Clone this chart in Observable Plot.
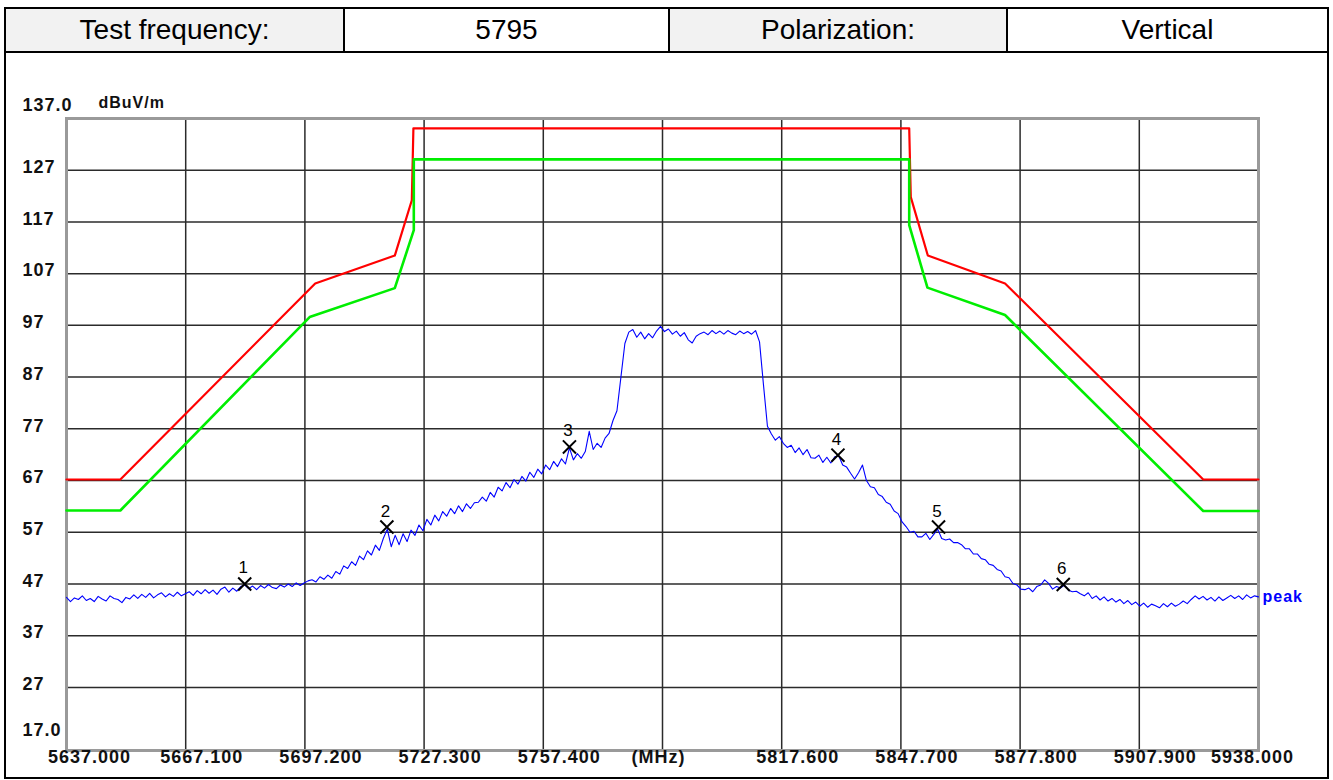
<!DOCTYPE html>
<html><head><meta charset="utf-8">
<script src="https://cdn.jsdelivr.net/npm/d3@7"></script>
<script src="https://cdn.jsdelivr.net/npm/@observablehq/plot@0.6"></script>
<style>
body{margin:0;background:#fff;font-family:"Liberation Sans",Arial,sans-serif;}
#wrap{position:relative;width:1333px;height:780px;overflow:hidden;background:#fff}
#hdr{position:absolute;left:4px;top:7px;width:1325px;height:46px;display:flex;box-sizing:border-box;border:2px solid #000;}
.c{display:flex;align-items:center;justify-content:center;font-size:28px;box-sizing:border-box;border-right:2px solid #000;height:100%;color:#000}
.c:last-child{border-right:none}
.g{background:#f2f2f2}
#box{position:absolute;left:4px;top:51px;width:1325px;height:728px;border:2px solid #000;border-top:none;box-sizing:border-box;pointer-events:none}
#chart{position:absolute;left:0;top:52px}
#chart text{letter-spacing:1px}
</style>
</head><body>
<div id="wrap">
  <div id="hdr"></div>
  <div id="chart"></div>
  <div id="box"></div>
</div>
<script>
// Header table
const headerCells = ["Test frequency:", "5795", "Polarization:", "Vertical"];

// Axis ticks
const xTickValues = [5637.0, 5667.1, 5697.2, 5727.3, 5757.4, 5787.5, 5817.6, 5847.7, 5877.8, 5907.9, 5938.0];
const xTickLabels = ["5637.000", "5667.100", "5697.200", "5727.300", "5757.400", "(MHz)", "5817.600", "5847.700", "5877.800", "5907.900", "5938.000"];
const yTickValues = [127, 117, 107, 97, 87, 77, 67, 57, 47, 37, 27];
const yTopLabel = "137.0";
const yBottomLabel = "17.0";
const yUnit = "dBuV/m";
const yMin = 14.8, yMax = 137;

// Limit lines (frequency MHz, level dBuV/m)
const redFreqs   = [5637, 5650.6, 5699.8, 5719.9, 5724.2, 5724.6, 5849.8, 5850.2, 5854.5, 5874.0, 5924.05, 5938];
const redLevels  = [67.2, 67.2, 105.1, 110.5, 121.2, 135.1, 135.1, 121.8, 110.5, 105.1, 67.2, 67.2];
const greenFreqs = [5637, 5650.6, 5698.4, 5719.9, 5724.7, 5724.7, 5849.8, 5849.8, 5854.4, 5874.0, 5924.05, 5938];
const greenLevels= [61.2, 61.2, 98.6, 104.2, 115.4, 129.1, 129.1, 116.4, 104.3, 99.0, 61.1, 61.1];

// Peak trace: one reading per MHz from 5637 MHz
const traceStart = 5637, traceStep = 1;
const traceLevels = [
  44.4, 43.6, 44.3, 44.0, 44.7, 43.8, 44.2, 43.6, 44.6, 44.1, 43.7, 44.7, 44.2, 44.0, 43.4, 44.4,
  44.1, 44.9, 44.2, 45.0, 44.4, 45.2, 44.3, 44.9, 45.3, 44.5, 45.1, 44.6, 45.4, 44.7, 45.1,
  45.5, 44.8, 45.7, 45.1, 45.9, 45.2, 45.8, 45.0, 46.0, 46.4, 45.4, 46.2, 45.6, 46.5, 46.8,
  46.1, 46.6, 45.9, 46.7, 46.2, 46.9, 46.3, 46.1, 46.8, 46.4, 47.0, 46.5, 47.2, 46.7, 47.2,
  47.6, 47.8, 47.4, 48.4, 47.9, 48.7, 48.1, 49.4, 48.9, 50.5, 50.0, 51.3, 50.6, 52.4, 51.7, 53.4, 52.6, 54.5, 53.5, 55.8, 57.6,
  54.2, 56.4, 54.6, 56.7, 55.2, 57.4, 56.4, 58.4, 57.3, 59.5, 58.4, 60.3, 59.2, 61.0, 60.1, 61.6, 60.6, 62.1, 61.0, 62.5, 61.6, 62.7,
  62.8, 63.8, 63.0, 64.7, 63.8, 65.7, 65.0, 66.6, 65.6, 67.2, 66.3, 67.8, 66.9, 68.6, 67.6, 69.2, 68.3, 70.0, 69.1, 70.7, 69.7, 71.2, 70.2, 73.3,
  71.0, 72.2, 71.3, 72.6, 76.5, 73.0, 74.2, 73.4, 75.2, 76.1, 78.6, 80.5, 87.0, 93.5, 95.7,
  96.2, 94.7, 95.7, 94.4, 95.4, 94.6, 95.9, 96.8, 95.8, 96.3, 95.3, 95.9, 94.9, 95.6, 94.2, 93.6, 94.9, 95.4,
  95.7, 95.2, 96.0, 95.4, 95.9, 95.3, 96.0, 95.5, 95.2, 95.9, 95.4, 95.8, 95.3, 96.0, 93.8, 85.5, 77.5, 76.0, 74.8, 75.5, 74.2,
  73.4, 73.8, 72.4, 73.3, 72.0, 73.0, 71.4, 71.3, 71.9, 70.5, 71.5, 70.4, 71.6, 71.8, 70.0, 69.6, 68.4, 67.3, 68.5, 70.0,
  67.0, 65.8, 65.6, 64.3, 63.9, 62.8, 62.4, 61.1, 60.6, 59.0, 58.1, 57.0, 57.2, 56.1, 56.1, 56.8, 55.6, 56.6, 57.6, 55.8, 55.5, 55.7, 55.0, 55.0, 54.6,
  53.8, 53.8, 52.8, 52.8, 51.9, 51.7, 50.8, 50.6, 49.8, 49.5, 48.4, 48.2, 47.1, 46.8, 46.0, 45.9, 46.2, 45.5, 46.5, 46.8, 47.8, 47.1, 46.0, 46.5,
  46.2, 46.8, 45.8, 45.5, 45.6, 45.1, 44.7, 45.3, 44.2, 44.7, 43.9, 44.5, 43.7, 44.2, 43.5, 44.0,
  43.2, 43.8, 43.0, 43.5, 42.7, 43.3, 42.5, 43.1, 42.8, 42.4, 43.2, 42.6, 43.3, 42.7, 43.1, 43.7, 43.2, 44.0, 44.7, 44.1,
  44.6, 43.9, 44.4, 43.7, 44.5, 43.8, 44.3, 44.8, 44.2, 44.7, 44.0, 44.9, 44.3, 44.7, 44.5
];
const traceName = "peak";

// Markers
const markerIds    = ["1", "2", "3", "4", "5", "6"];
const markerFreqs  = [5682.0, 5717.9, 5764.0, 5831.8, 5857.2, 5888.7];
const markerLevels = [47.0, 58.0, 73.5, 71.9, 58.0, 46.9];

// ---- build ----
const hdr = document.getElementById("hdr");
const cellWidths = [339, 325, 338, 319];
headerCells.forEach((t, i) => {
  const d = document.createElement("div");
  d.className = "c" + (i % 2 === 0 ? " g" : "");
  d.style.width = cellWidths[i] + "px";
  d.textContent = t;
  hdr.appendChild(d);
});

const zip = (fs, vs) => fs.map((f, i) => ({f, v: vs[i]}));
const red = zip(redFreqs, redLevels);
const green = zip(greenFreqs, greenLevels);
const trace = traceLevels.map((v, i) => ({f: traceStart + i * traceStep, v}));
const markers = markerIds.map((id, i) => ({id, f: markerFreqs[i], v: markerLevels[i]}));
const xTicks = xTickValues.map((x, i) => ({x, label: xTickLabels[i]}));
const gridX = xTickValues.slice(1, -1);
const last = trace[trace.length - 1];

const font = "'Liberation Sans', Arial, sans-serif";
const axisText = {fontSize: 18, fontWeight: "bold", fill: "#111"};

const chart = Plot.plot({
  width: 1333,
  height: 728,
  marginTop: 66,
  marginBottom: 30,
  marginLeft: 66,
  marginRight: 75,
  x: {domain: [5637, 5938], axis: null},
  y: {domain: [yMin, yMax], axis: null},
  style: {fontFamily: font, background: "transparent", overflow: "visible"},
  marks: [
    Plot.ruleX(gridX, {stroke: "#2b2b2b", strokeWidth: 1.5}),
    Plot.ruleY(yTickValues, {stroke: "#2b2b2b", strokeWidth: 1.5}),
    Plot.frame({stroke: "#9a9a9a", strokeWidth: 3}),
    Plot.line(red, {x: "f", y: "v", stroke: "#ff0000", strokeWidth: 2.2}),
    Plot.line(green, {x: "f", y: "v", stroke: "#00ee00", strokeWidth: 2.6}),
    Plot.line(trace, {x: "f", y: "v", stroke: "#0000ff", strokeWidth: 1.1}),
    Plot.dot(markers, {x: "f", y: "v", symbol: "times", r: 6, stroke: "#000", strokeWidth: 2}),
    Plot.text(markers, {x: "f", y: "v", text: "id", dy: -16, dx: -1, fontSize: 17, fill: "#000"}),
    Plot.text([last], {x: "f", y: "v", text: () => traceName, textAnchor: "start", dx: 4, fontSize: 16, fontWeight: "bold", fill: "#0000ff"}),
    // y tick labels
    Plot.text(yTickValues, {y: d => d, text: d => String(d), frameAnchor: "left", textAnchor: "start", dx: -44, dy: -3, ...axisText}),
    Plot.text([yTopLabel], {y: () => yMax, text: d => d, frameAnchor: "left", textAnchor: "start", dx: -44, dy: -13, ...axisText}),
    Plot.text([yBottomLabel], {y: () => yMin, text: d => d, frameAnchor: "left", textAnchor: "start", dx: -44, dy: -20, ...axisText}),
    Plot.text([yUnit], {y: () => yMax, text: d => d, frameAnchor: "left", textAnchor: "start", dx: 32, dy: -16, fontSize: 16, fontWeight: "bold", fill: "#111"}),
    // x tick labels
    Plot.text(xTicks.slice(0, 1), {x: "x", text: "label", frameAnchor: "bottom", dy: 12, dx: 23, ...axisText}),
    Plot.text(xTicks.slice(1, -1).filter(d => d.label !== "(MHz)"), {x: "x", text: "label", frameAnchor: "bottom", dy: 12, dx: 16, ...axisText}),
    Plot.text(xTicks.filter(d => d.label === "(MHz)"), {x: "x", text: "label", frameAnchor: "bottom", dy: 12, dx: -4, ...axisText}),
    Plot.text(xTicks.slice(-1), {x: "x", text: "label", frameAnchor: "bottom", dy: 12, dx: -6, ...axisText})
  ]
});
document.getElementById("chart").appendChild(chart);
</script>
</body></html>
